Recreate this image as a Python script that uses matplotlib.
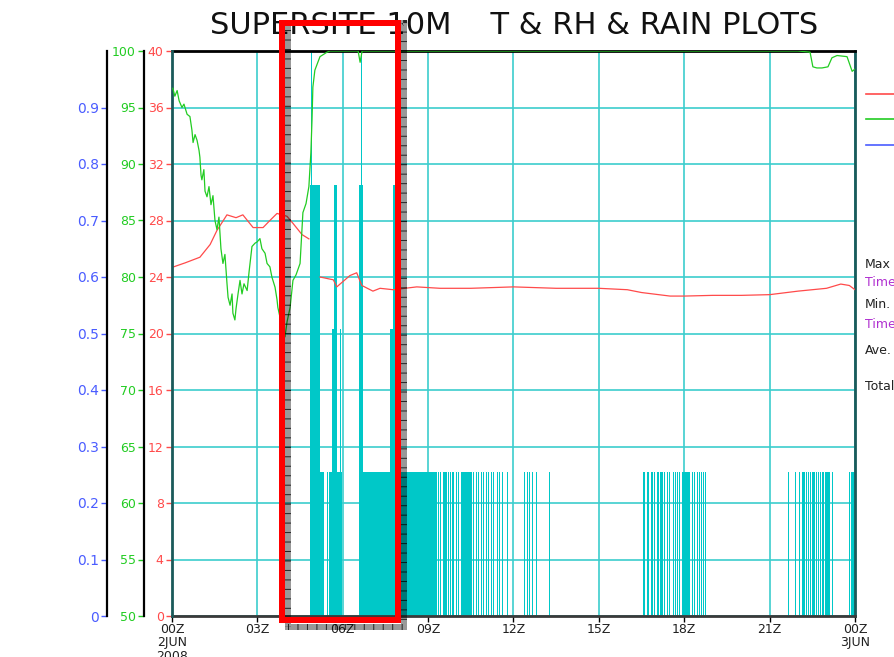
import matplotlib
matplotlib.use("Agg")
import matplotlib.pyplot as plt
from matplotlib.lines import Line2D
from matplotlib.patches import Rectangle
import numpy as np

plt.rcParams['font.family'] = ['DejaVu Sans']
plt.rcParams['lines.scale_dashes'] = False

W, H = 895, 657

# ---------------- data ----------------
title = "SUPERSITE 10M    T & RH & RAIN PLOTS"
xtick_hours = [0, 3, 6, 9, 12, 15, 18, 21, 24]
xtick_labels = ["00Z\n2JUN\n2008", "03Z", "06Z", "09Z", "12Z", "15Z", "18Z", "21Z", "00Z\n3JUN"]
t_ticks = [0, 4, 8, 12, 16, 20, 24, 28, 32, 36, 40]
rh_ticks = [50, 55, 60, 65, 70, 75, 80, 85, 90, 95, 100]
rain_ticks = [0, 0.1, 0.2, 0.3, 0.4, 0.5, 0.6, 0.7, 0.8, 0.9]
rain_tick_labels = ["0", "0.1", "0.2", "0.3", "0.4", "0.5", "0.6", "0.7", "0.8", "0.9"]

# temperature (deg C) - two segments
t1_hour = [0.03, 0.46, 0.98, 1.34, 1.58, 1.93, 2.25, 2.49, 2.85, 3.20, 3.44, 3.69, 4.04, 4.25, 4.57, 4.81]
t1_temp = [24.7, 25.0, 25.4, 26.3, 27.3, 28.4, 28.2, 28.4, 27.5, 27.5, 28.0, 28.5, 28.3, 27.8, 27.0, 26.7]
t2_hour = [5.20, 5.67, 5.79, 6.25, 6.49, 6.67, 7.06, 7.31, 7.77, 8.60, 9.42, 10.5, 12.0, 13.5, 15.0,
           16.0, 16.5, 17.5, 18.0, 19.0, 20.0, 21.0, 22.0, 23.0, 23.5, 23.8, 24.0]
t2_temp = [24.0, 23.8, 23.3, 24.1, 24.3, 23.4, 23.0, 23.2, 23.1, 23.3, 23.2, 23.2, 23.3, 23.2, 23.2,
           23.1, 22.9, 22.65, 22.65, 22.7, 22.7, 22.75, 23.0, 23.2, 23.5, 23.4, 23.1]

# relative humidity (%)
rh_hour = [0.03, 0.10, 0.18, 0.25, 0.35, 0.42, 0.53, 0.63, 0.70, 0.74, 0.81, 0.88, 0.95, 0.98, 1.02,
           1.05, 1.12, 1.16, 1.23, 1.30, 1.37, 1.44, 1.51, 1.58, 1.65, 1.72, 1.79, 1.86, 1.93, 1.97,
           2.04, 2.11, 2.14, 2.21, 2.25, 2.32, 2.39, 2.46, 2.53, 2.64, 2.71, 2.81, 2.92, 2.99, 3.09,
           3.16, 3.27, 3.34, 3.44, 3.51, 3.62, 3.69, 3.72, 3.79, 3.87, 3.97, 4.04, 4.15, 4.25, 4.36,
           4.50, 4.60, 4.71, 4.81, 4.88, 4.92, 4.95, 5.02, 5.20, 5.45, 5.55, 6.54, 6.61, 6.68, 22.0,
           22.42, 22.52, 22.66, 22.84, 23.05, 23.19, 23.37, 23.72, 23.90, 24.0]
rh_val = [96.7, 96.0, 96.5, 95.6, 95.0, 95.3, 94.4, 94.2, 93.0, 91.9, 92.6, 92.1, 91.2, 90.6, 89.0,
          88.6, 89.5, 87.6, 87.1, 88.0, 86.4, 87.2, 85.0, 84.2, 85.3, 82.5, 81.2, 82.0, 79.5, 78.2,
          77.5, 78.5, 76.8, 76.2, 77.2, 78.5, 79.7, 78.5, 79.4, 78.8, 80.5, 82.7, 83.0, 83.1, 83.4,
          82.5, 82.1, 81.2, 80.9, 80.0, 79.1, 78.0, 77.3, 76.5, 75.6, 74.7, 76.0, 77.3, 79.7, 80.2,
          81.2, 85.7, 86.5, 88.0, 91.0, 93.9, 96.8, 98.3, 99.5, 99.9, 100.0, 100.0, 99.0, 100.0, 100.0,
          99.9, 98.6, 98.5, 98.5, 98.6, 99.4, 99.6, 99.5, 98.2, 98.4]

# rain (mm) - continuous blocks
block_start = [4.85, 5.20, 5.53, 5.62, 5.70, 5.79, 6.57, 6.72, 7.66, 7.78, 7.85, 9.53, 10.155,
               16.82, 17.15, 17.97, 22.13, 22.535, 22.95, 23.85]
block_end = [5.20, 5.35, 5.62, 5.70, 5.79, 5.96, 6.72, 7.66, 7.78, 7.85, 9.30, 9.65, 10.53,
             16.91, 17.24, 18.20, 22.24, 22.595, 23.12, 24.0]
block_rain = [0.762, 0.254, 0.254, 0.508, 0.762, 0.254, 0.762, 0.254, 0.508, 0.762, 0.254, 0.254, 0.254,
              0.254, 0.254, 0.254, 0.254, 0.254, 0.254, 0.254]
# rain (mm) - single short intervals
spike_hour = [4.88, 6.64, 5.43, 5.89,
              9.337, 9.417, 9.709, 9.768, 9.828, 9.885, 9.980, 10.06, 10.587, 10.682, 10.763, 10.848,
              10.939, 11.034, 11.115, 11.199, 11.290, 11.410, 11.501, 11.585, 11.761, 12.369, 12.464,
              12.555, 12.650, 12.808, 13.248,
              16.540, 16.586, 16.681, 16.737, 16.948, 17.032, 17.088, 17.299, 17.383, 17.475, 17.615,
              17.675, 17.756, 17.826, 17.911, 18.262, 18.343, 18.437, 18.508, 18.578, 18.648, 18.729,
              21.656, 21.892, 22.043, 22.278, 22.359, 22.419, 22.478, 22.630, 22.700, 22.770, 22.830,
              22.886, 23.182, 23.790]
spike_rain = [1.016, 1.016, 0.254, 0.508] + [0.254] * (len(spike_hour) - 4)
spike_dur = 0.035  # hours

# ---------------- figure ----------------
fig = plt.figure(figsize=(W / 100, H / 100), dpi=100)
fig.patch.set_facecolor('white')

def fx(x):
    return x / W

def fy(y):
    return 1 - y / H

L, R, T, B = 172, 855, 51, 616
rect = [fx(L), fy(B), (R - L) / W, (B - T) / H]

CYAN = '#00C8C8'
GRID = '#3CCDCD'
REDC = '#FF4A4A'
GREENC = '#22CC22'
BLUEC = '#4A5CFF'
FS = 9

# rain axes (main, drawn first -> behind)
axr = fig.add_axes(rect)
axr.set_xlim(0, 24)
axr.set_ylim(0, 1)
axr.bar(block_start, np.array(block_rain), width=np.array(block_end) - np.array(block_start),
        align='edge', color=CYAN, linewidth=0, zorder=2)
axr.bar(spike_hour, spike_rain, width=spike_dur, align='edge', color=CYAN, linewidth=0, zorder=2)
axr.set_xticks(xtick_hours)
axr.set_xticklabels(xtick_labels, fontsize=FS, color='#202020', va='top', linespacing=1.05)
axr.tick_params(axis='x', length=4, width=1, color='black', pad=1)
axr.set_yticks(rain_ticks)
axr.set_yticklabels(rain_tick_labels, fontsize=FS)
axr.grid(True, color=GRID, linewidth=1.2, zorder=1)
axr.set_axisbelow(True)
axr.spines['left'].set_position(('outward', (L - 107) * 0.72))
axr.spines['left'].set_color('black')
axr.spines['left'].set_linewidth(1.6)
axr.spines['top'].set_color('black')
axr.spines['top'].set_linewidth(2)
axr.spines['right'].set_color('#1a5a5a')
axr.spines['right'].set_linewidth(2)
axr.spines['bottom'].set_color('#3a3a3a')
axr.spines['bottom'].set_linewidth(2)
for s in axr.spines.values():
    s.set_zorder(5)

# temperature axes
axt = axr.twinx()
axt.set_ylim(0, 40)
axt.yaxis.set_ticks_position('left')
axt.yaxis.set_label_position('left')
axt.spines['left'].set_visible(True)
axt.spines['left'].set_color('#1a5a5a')
axt.spines['left'].set_linewidth(2)
for s in ['right', 'top', 'bottom']:
    axt.spines[s].set_visible(False)
axt.set_yticks(t_ticks)
axt.set_yticklabels([str(v) for v in t_ticks], fontsize=FS)
axt.plot(t1_hour, t1_temp, color=REDC, linewidth=0.9)
axt.plot(t2_hour, t2_temp, color=REDC, linewidth=0.9)

# humidity axes
axh = axr.twinx()
axh.set_ylim(50, 100)
axh.yaxis.set_ticks_position('left')
axh.yaxis.set_label_position('left')
axh.spines['left'].set_visible(True)
axh.spines['left'].set_position(('outward', (L - 144) * 0.72))
axh.spines['left'].set_color('black')
axh.spines['left'].set_linewidth(1.6)
for s in ['right', 'top', 'bottom']:
    axh.spines[s].set_visible(False)
axh.set_yticks(rh_ticks)
axh.set_yticklabels([str(v) for v in rh_ticks], fontsize=FS)
axh.plot(rh_hour, rh_val, color=GREENC, linewidth=0.9)

# tick colours (set after twins are created)
axr.tick_params(axis='y', length=4, width=1, color=BLUEC, labelcolor=BLUEC, pad=2)
axt.tick_params(axis='y', length=4, width=1, color=REDC, labelcolor=REDC, pad=2)
axh.tick_params(axis='y', length=4, width=1, color=GREENC, labelcolor=GREENC, pad=2)

# title
fig.text(fx(514), fy(25), title, ha='center', va='center', fontsize=22, color='#111111')

# legend lines at right (cut off at edge)
for yy, c in [(94, REDC), (119, GREENC), (145, BLUEC)]:
    fig.add_artist(Line2D([fx(866), fx(900)], [fy(yy), fy(yy)], color=c, linewidth=1.2,
                          transform=fig.transFigure))

# statistics labels (cut off at edge)
for yy, s, c in [(264, "Max", '#222222'), (282, "Time", '#B030D0'), (305, "Min.", '#222222'),
                 (325, "Time", '#B030D0'), (351, "Ave.", '#222222'), (386, "Total", '#222222')]:
    fig.text(fx(865), fy(yy), s, fontsize=FS, color=c, ha='left', va='center')

# annotation box with shadow
shadow = Rectangle((fx(288), fy(626.5)), fx(404) - fx(288), fy(22.5) - fy(626.5),
                   fill=False, edgecolor=(0, 0, 0, 0.4), linewidth=6 * 0.72,
                   transform=fig.transFigure, zorder=10)
fig.add_artist(shadow)
ticks = Rectangle((fx(288), fy(626.5)), fx(404) - fx(288), fy(22.5) - fy(626.5),
                  fill=False, edgecolor=(0, 0, 0, 0.75), linewidth=6 * 0.72,
                  linestyle=(0, (0.72, 6.1)), transform=fig.transFigure, zorder=10.5)
fig.add_artist(ticks)
redbox = Rectangle((fx(282), fy(619.5)), fx(398) - fx(282), fy(22.5) - fy(619.5),
                   fill=False, edgecolor='#FF0000', linewidth=6 * 0.72,
                   transform=fig.transFigure, zorder=11)
fig.add_artist(redbox)

fig.savefig("out.png", dpi=100, facecolor='white')
